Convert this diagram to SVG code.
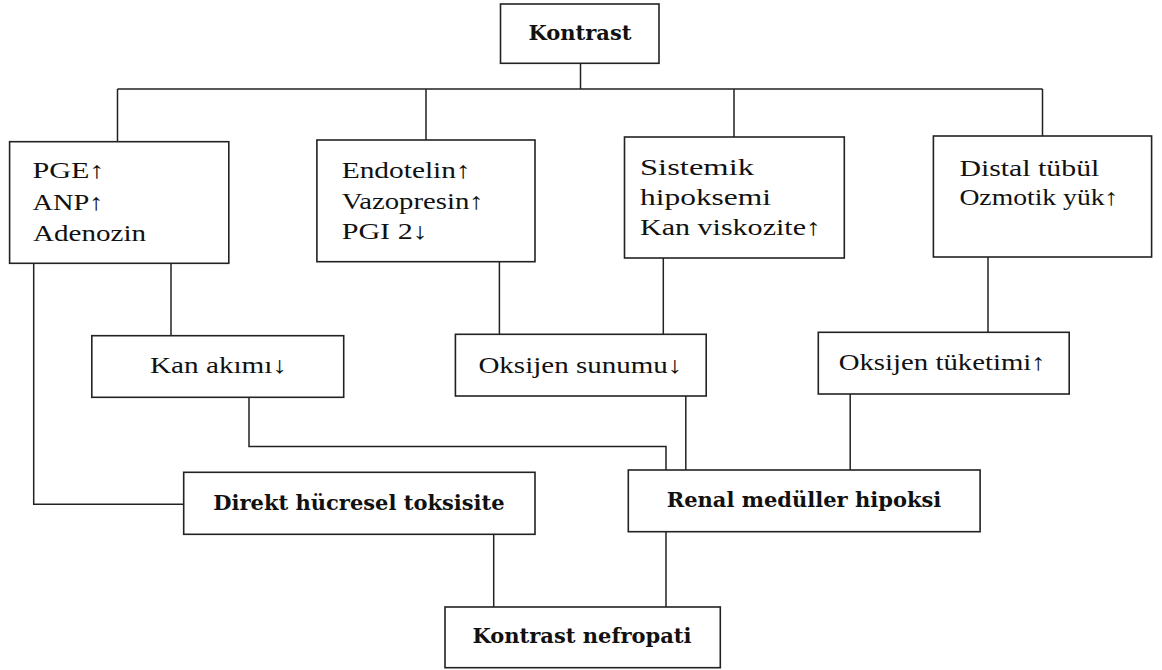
<svg xmlns="http://www.w3.org/2000/svg" width="1162" height="670" viewBox="0 0 1162 670">
<style>
rect{fill:#fff;stroke:#222;stroke-width:1.6}
.c path{fill:none;stroke:#222;stroke-width:1.5}
text{font-family:"Liberation Serif","DejaVu Serif",serif;font-size:23px;fill:#111}
.b{font-family:"DejaVu Serif","Liberation Serif",serif;font-weight:bold;font-size:21px}
.m{text-anchor:middle}
</style>
<rect x="0" y="0" width="1162" height="670" style="stroke:none"/>
<g class="c" id="connectors">
<path d="M580.5 63V89M117.5 89H1042.5M117.5 89V142M426 89V140M734 89V137M1042.5 89V136"/>
<path d="M33.7 263V504.3H183.7"/>
<path d="M171 263V335.7"/>
<path d="M499.4 261.7V334.3"/>
<path d="M663.3 258V334.3"/>
<path d="M988 257V332.3"/>
<path d="M249 397.3V446.5H666V470"/>
<path d="M685.8 396V470"/>
<path d="M850.2 394V470"/>
<path d="M493.7 534.3V607"/>
<path d="M666 531.7V607"/>
</g>
<g id="kontrast"><rect x="500.5" y="4" width="158.5" height="59.3"/><text class="b m" x="580" y="40">Kontrast</text></g>
<g id="box1"><rect x="9.6" y="141.7" width="219.2" height="121.6"/><text x="32.5" y="178" textLength="72" lengthAdjust="spacingAndGlyphs">PGE↑</text><text x="32.5" y="209.5" textLength="71" lengthAdjust="spacingAndGlyphs">ANP↑</text><text x="33" y="240.5" textLength="113" lengthAdjust="spacingAndGlyphs">Adenozin</text></g>
<g id="box2"><rect x="316.9" y="140" width="218.1" height="121.7"/><text x="341.7" y="178" textLength="129" lengthAdjust="spacingAndGlyphs">Endotelin↑</text><text x="341.7" y="208.5" textLength="142" lengthAdjust="spacingAndGlyphs">Vazopresin↑</text><text x="341.7" y="239" textLength="86" lengthAdjust="spacingAndGlyphs">PGI 2↓</text></g>
<g id="box3"><rect x="624.5" y="137" width="219.8" height="121"/><text x="640" y="175" textLength="114" lengthAdjust="spacingAndGlyphs">Sistemik</text><text x="640" y="205" textLength="131" lengthAdjust="spacingAndGlyphs">hipoksemi</text><text x="640" y="235" textLength="181" lengthAdjust="spacingAndGlyphs">Kan viskozite↑</text></g>
<g id="box4"><rect x="933.4" y="136" width="218.2" height="121"/><text x="959.4" y="175.5" textLength="140" lengthAdjust="spacingAndGlyphs">Distal tübül</text><text x="959.4" y="205" textLength="159" lengthAdjust="spacingAndGlyphs">Ozmotik yük↑</text></g>
<g id="kan"><rect x="91.8" y="335.7" width="251.9" height="61.6"/><text x="150" y="373" textLength="137" lengthAdjust="spacingAndGlyphs">Kan akımı↓</text></g>
<g id="sunum"><rect x="455.4" y="334.3" width="250.8" height="61.7"/><text x="478.4" y="373" textLength="204" lengthAdjust="spacingAndGlyphs">Oksijen sunumu↓</text></g>
<g id="tuketim"><rect x="818.3" y="332.3" width="250.9" height="61.7"/><text x="838.7" y="370" textLength="207" lengthAdjust="spacingAndGlyphs">Oksijen tüketimi↑</text></g>
<g id="direkt"><rect x="183.7" y="472.3" width="351.3" height="62"/><text class="b m" x="359" y="510">Direkt hücresel toksisite</text></g>
<g id="renal"><rect x="628.3" y="470" width="351.8" height="61.7"/><text class="b m" x="804" y="507">Renal medüller hipoksi</text></g>
<g id="nefropati"><rect x="445" y="607" width="275.3" height="60.7"/><text class="b m" x="582" y="643">Kontrast nefropati</text></g>
</svg>
